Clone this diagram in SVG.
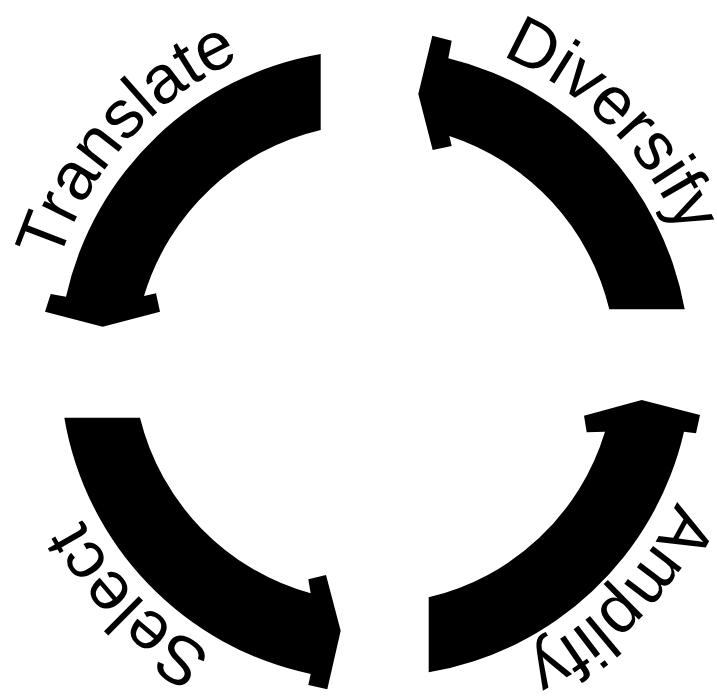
<svg xmlns="http://www.w3.org/2000/svg" xmlns:xlink="http://www.w3.org/1999/xlink" width="717" height="700" viewBox="0 0 717 700">
  <style>
    .arrow { fill: #000; stroke: none; }
    .label { font-family: "Liberation Sans", Arial, Helvetica, sans-serif; font-size: 68px; fill: #000; }
  </style>
  <defs>
    <path id="p-translate" d="M 58.5,262.6 A 332 332 0 0 1 303.7,38.7"/>
    <path id="p-diversify" d="M 501.5,56.1 A 332 332 0 0 1 704.1,319.1"/>
    <path id="p-amplify" d="M 676.6,501.7 A 332 332 0 0 1 405.7,693.6"/>
    <path id="p-select" d="M 213,652.8 A 332 332 0 0 1 43,367.6"/>
  </defs>
  <rect x="0" y="0" width="717" height="700" fill="#fff"/>
  <g id="connectors">
    <path id="arrow-translate" class="arrow" d="M 320.7,54 A 316 316 0 0 0 66,296.7 L 50.7,294 L 45,311.7 L 102.7,326.7 L 160,311.7 L 156,293.3 L 144,296 A 242 242 0 0 1 320.7,130 Z"/>
    <path id="arrow-diversify" class="arrow" d="M 684.7,309.3 A 316 316 0 0 0 448.3,58.3 L 451.7,40.7 L 432.3,35.7 L 418.3,94 L 432.7,150 L 451.7,146 L 449.3,136 A 242 242 0 0 1 609.3,309.3 Z"/>
    <path id="arrow-amplify" class="arrow" d="M 428.7,672.3 A 316 316 0 0 0 684,431.7 L 696,433.3 L 700,415 L 641.7,400 L 584,415.7 L 586.7,432.3 L 605,431.7 A 242 242 0 0 1 428.7,597.3 Z"/>
    <path id="arrow-select" class="arrow" d="M 64.3,417.7 A 316 316 0 0 0 310.7,674 L 308.3,685 L 327.3,689.3 L 340.7,630.7 L 326,575 L 308.3,579.3 L 310.7,593.3 A 242 242 0 0 1 140,417.7 Z"/>
  </g>
  <g id="translate">
    <text class="label"><textPath href="#p-translate" xlink:href="#p-translate">Translate</textPath></text>
  </g>
  <g id="diversify">
    <text class="label"><textPath href="#p-diversify" xlink:href="#p-diversify">Diversify</textPath></text>
  </g>
  <g id="amplify">
    <text class="label"><textPath href="#p-amplify" xlink:href="#p-amplify">Amplify</textPath></text>
  </g>
  <g id="select">
    <text class="label"><textPath href="#p-select" xlink:href="#p-select">Select</textPath></text>
  </g>
</svg>
